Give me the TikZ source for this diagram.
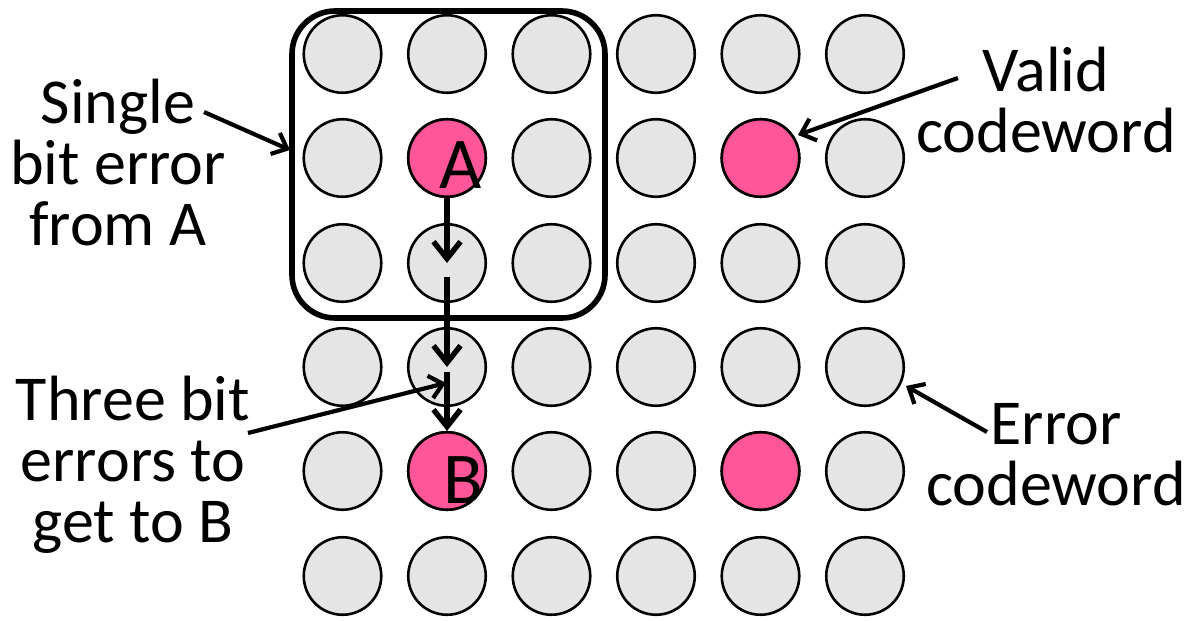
\documentclass[tikz,border=0pt]{standalone}
\usepackage{fontspec}
\setmainfont{Carlito}
\usetikzlibrary{arrows.meta}
\definecolor{cgray}{HTML}{E5E5E5}
\definecolor{cpink}{HTML}{FF5599}
\begin{document}
\begin{tikzpicture}[x=1pt,y=-1pt,
  circ/.style={circle,draw=black,line width=2.6pt,fill=cgray,minimum size=77.5pt,inner sep=0pt},
  valid/.style={circ,fill=cpink},
  lbl/.style={align=center,anchor=base,inner sep=0pt,font=\fontsize{64}{61}\selectfont},
  letter/.style={anchor=base,inner sep=0pt,font=\fontsize{73}{73}\selectfont},
  chain/.style={line width=5.4pt,-{Straight Barb[length=17pt,width=27pt,line width=5.4pt]}},
  point/.style={line width=4.2pt,-{Straight Barb[length=13pt,width=23pt,line width=4.2pt]}},
  boxstyle/.style={draw=black,line width=5.6pt,rounded corners=43pt,minimum width=313pt,minimum height=307pt,inner sep=0pt}]
\useasboundingbox (0,0) rectangle (1192,621);
% grid of codewords
\foreach \r/\y in {1/54,2/158,3/263,4/367,5/471,6/576}{
  \foreach \c/\x in {1/342.5,2/447,3/551.5,4/656,5/760.5,6/865}{
    \node[circ] (c\r\c) at (\x,\y) {};
  }
}
\node[valid] (A) at (c22.center) {};
\node[valid] (V) at (c25.center) {};
\node[valid] (B) at (c52.center) {};
\node[valid] (W) at (c55.center) {};
\node[letter] (Atext) at (461,188) {A};
\node[letter] (Btext) at (463,503) {B};
% single-bit error region
\node[boxstyle] (box) at (448.5,164.5) {};
% path from A to B
\draw[chain] (A.south) -- (c32.center);
\draw[chain] ([yshift=-14pt]c32.center) -- (c42.center);
\draw[chain] ([yshift=-5pt]c42.center) -- (B.north);
% labels (anchor = baseline of last line)
\node[lbl] (single) at (118,245) {Single\\bit error\\from A};
\node[lbl] (validlbl) at (1046,152) {Valid\\codeword};
\node[lbl] (errlbl) at (1056,505) {Error\\codeword};
\node[lbl] (three) at (133,542) {Three bit\\errors to\\get to B};
\coordinate (s1) at (204,112);
\coordinate (s2) at (290,150);
\coordinate (v1) at (958,78);
\coordinate (v2) at (798,135);
\coordinate (e1) at (987,432);
\coordinate (e2) at (906,386);
\coordinate (t1) at (248,433);
\coordinate (t2) at (446,383);
\draw[point] (s1) -- (s2);
\draw[point] (v1) -- (v2);
\draw[point] (e1) -- (e2);
\draw[point] (t1) -- (t2);
\end{tikzpicture}
\end{document}
